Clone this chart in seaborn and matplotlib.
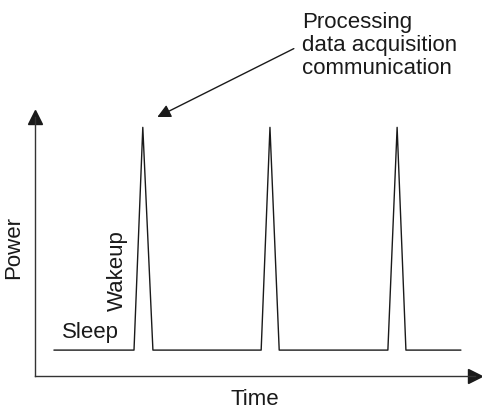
import matplotlib
matplotlib.use("Agg")
import matplotlib.pyplot as plt
import seaborn as sns
import pandas as pd

# Power trace of a sensor node: sleep baseline with three wakeup spikes
time = [4.3, 22.5, 24.5, 26.8, 51.4, 53.4, 55.5, 80.2, 82.3, 84.3, 96.8]
power = [1.0, 1.0, 9.6, 1.0, 1.0, 9.6, 1.0, 1.0, 9.6, 1.0, 1.0]

annotation_text = "Processing\ndata acquisition\ncommunication"
sleep_label = "Sleep"
wakeup_label = "Wakeup"
x_label = "Time"
y_label = "Power"

sns.set_theme(style="white")
plt.rcParams['font.family'] = ['Liberation Sans', 'DejaVu Sans']

df = pd.DataFrame({"Time": time, "Power": power})

fig = plt.figure(figsize=(4.82, 4.10), dpi=100)
ax = fig.add_axes([35 / 482, 33 / 410, (475 - 35) / 482, (377 - 118) / 410])

sns.lineplot(data=df, x="Time", y="Power", ax=ax, color="#1a1a1a", linewidth=1.0)

ax.set_xlim(0, 100)
ax.set_ylim(0, 10)
ax.set_xticks([])
ax.set_yticks([])

# arrow-style axes
sns.despine(ax=ax)
for side in ["left", "bottom"]:
    ax.spines[side].set_color("#333333")
    ax.spines[side].set_linewidth(1.0)
ax.plot(1, 0, ">", color="#1a1a1a", markersize=9.5, transform=ax.transAxes, clip_on=False)
ax.plot(0, 1, "^", color="#1a1a1a", markersize=9.5, transform=ax.transAxes, clip_on=False)

ax.set_xlabel(x_label, fontsize=16, labelpad=9, color="#1a1a1a")
ax.set_ylabel(y_label, fontsize=16, labelpad=8, color="#1a1a1a")

ax.text(6.1, 1.7, sleep_label, fontsize=16, ha="left", va="center", color="#1a1a1a")
ax.text(18.8, 4.1, wakeup_label, fontsize=16, rotation=90, ha="center", va="center", color="#1a1a1a")

ax.annotate(annotation_text, xy=(27.8, 10.0), xytext=(60.7, 12.8),
            fontsize=16, ha="left", va="center", linespacing=1.15, color="#1a1a1a",
            annotation_clip=False,
            arrowprops=dict(arrowstyle="-|>", mutation_scale=20, lw=1.0,
                            color="#1a1a1a", relpos=(0, 0.5), shrinkA=4, shrinkB=0))

fig.savefig("out.png", dpi=100)
